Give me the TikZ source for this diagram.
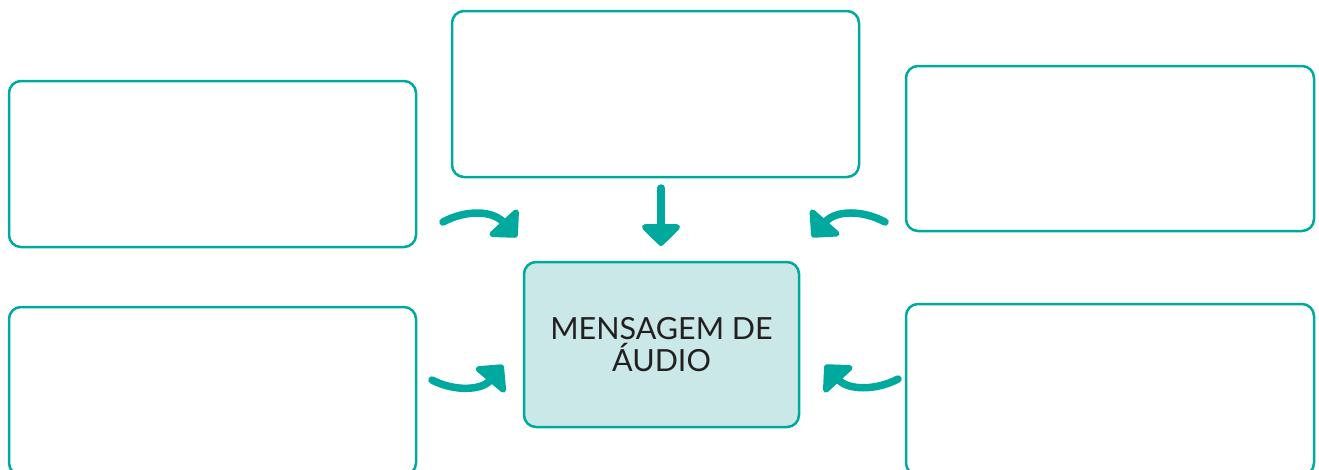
\documentclass[tikz,border=0pt]{standalone}
\usepackage{fontspec}
\setmainfont{Lato}
\usepackage{xcolor}
\usetikzlibrary{arrows.meta}

\definecolor{teal1}{HTML}{00A99D}
\definecolor{tealfill}{HTML}{C9E8E7}
\definecolor{textgray}{HTML}{231F20}

\begin{document}
\begin{tikzpicture}[x=1pt, y=-1pt,
    box/.style={draw=teal1, line width=2.5pt, rounded corners=12pt, inner sep=0pt},
    flow/.style={draw=teal1, line width=7.5pt, line cap=round,
      -{Triangle[length=23pt, width=45pt, round=false]}}]
  \useasboundingbox (0,0) rectangle (1319,469);

  \node[box, minimum width=407pt, minimum height=166pt] (left) at (212.5,164) {};
  \node[box, minimum width=407pt, minimum height=166pt] (top) at (655.5,94) {};
  \node[box, minimum width=408pt, minimum height=165pt] (right) at (1110,148.5) {};
  \node[box, minimum width=407pt, minimum height=168pt] (lowleft) at (212.5,391) {};
  \node[box, minimum width=408pt, minimum height=171pt] (lowright) at (1110,389.5) {};
  \node[box, fill=tealfill, minimum width=275pt, minimum height=165pt,
    text=textgray, align=center, font=\fontsize{30.5}{32}\selectfont] (msg) at (661.5,344.5)
    {MENSAGEM DE\\ÁUDIO};

  % arrow ends
  \coordinate (a1) at (443,222);
  \coordinate (b1) at (517,237);
  \coordinate (a2) at (661,188);
  \coordinate (b2) at (661,246);
  \coordinate (a3) at (885,222);
  \coordinate (b3) at (812,237);
  \coordinate (a4) at (432,380);
  \coordinate (b4) at (503,365);
  \coordinate (a5) at (898,379);
  \coordinate (b5) at (825,365);

  \draw[flow] (a1) .. controls (465,210) and (492,210) .. (b1);
  \draw[flow] (a2) -- (b2);
  \draw[flow] (a3) .. controls (863,210) and (836,210) .. (b3);
  \draw[flow] (a4) .. controls (455,392) and (482,390) .. (b4);
  \draw[flow] (a5) .. controls (875,391) and (848,390) .. (b5);
\end{tikzpicture}
\end{document}
